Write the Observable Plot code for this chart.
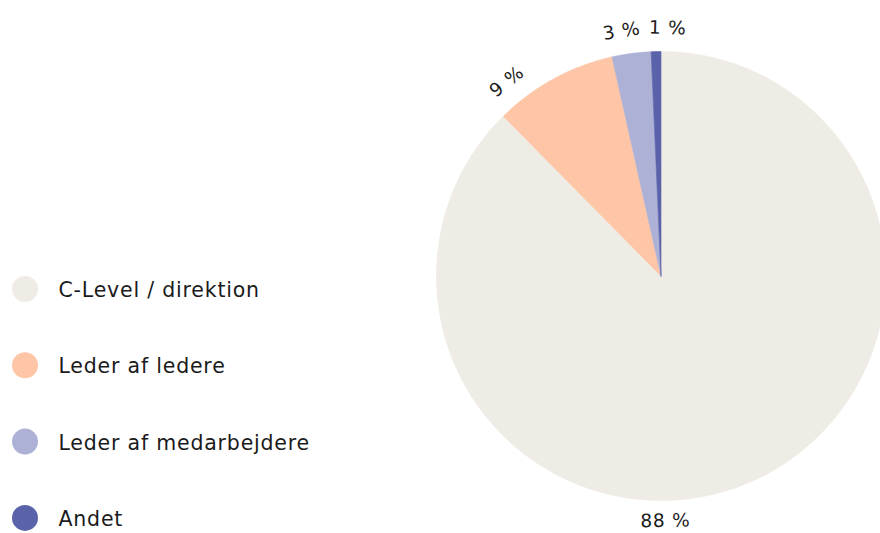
<!DOCTYPE html>
<html><head><meta charset="utf-8">
<script src="https://cdn.jsdelivr.net/npm/d3@7"></script>
<script src="https://cdn.jsdelivr.net/npm/@observablehq/plot@0.6"></script>
<style>html,body{margin:0;padding:0;background:#fff;overflow:hidden;}</style>
</head><body><div id="chart"></div>
<script>
// ---- data ----
const categories = ["C-Level / direktion", "Leder af ledere", "Leder af medarbejdere", "Andet"];
const shares = [87.6, 8.9, 2.8, 0.7];
const valueLabels = ["88 %", "9 %", "3 %", "1 %"];

// ---- style / layout ----
const palette = ["#efebe5", "#fec6a6", "#adb1d6", "#5a63aa"];
const W = 880, H = 533;
const cx = 660.5, cy = 275.5, R = 224.5;
const labelR = 248;
const labelNudgeDeg = [21.3, -9.8, -1.6, 2.8];
const legendX = 24.5, legendTextX = 58, legendY0 = 288.5, legendStep = 76.3;
const font = "'DejaVu Sans', sans-serif";
const ink = "#1b1b1b";

const total = d3.sum(shares);
let acc = 0;
const slices = categories.map((c, i) => {
  const a0 = acc / total * 360; acc += shares[i];
  const a1 = acc / total * 360;
  return {c, i, a0, a1, mid: (a0 + a1) / 2};
});
const polar = (deg, r) => {
  const t = deg * Math.PI / 180;
  return [cx + r * Math.sin(t), cy - r * Math.cos(t)];
};
const wedgePts = slices.flatMap(s => {
  const n = Math.max(2, Math.ceil((s.a1 - s.a0) / 0.5));
  const pts = [{c: s.c, x: cx, y: cy}];
  for (let k = 0; k <= n; k++) {
    const [x, y] = polar(s.a0 + (s.a1 - s.a0) * k / n, R);
    pts.push({c: s.c, x, y});
  }
  pts.push({c: s.c, x: cx, y: cy});
  return pts;
});
const labelAngle = s => s.mid + labelNudgeDeg[s.i];
const labelRadius = s => Math.abs(((labelAngle(s) % 360) + 360) % 360 - 180) < 90 ? labelR - 3 : labelR;
const norm = a => ((a + 180) % 360 + 360) % 360 - 180;
const rot = s => { const a = norm(labelAngle(s)); return Math.abs(a) <= 90 ? a : a - Math.sign(a) * 180; };

const chart = Plot.plot({
  width: W, height: H,
  margin: 0,
  x: {domain: [0, W], range: [0, W], axis: null},
  y: {domain: [0, H], range: [0, H], axis: null},
  color: {domain: categories, range: palette},
  style: {fontFamily: font, background: "#fff", letterSpacing: "0.8px"},
  marks: [
    Plot.line(wedgePts, {x: "x", y: "y", z: "c", fill: "c", stroke: "c", strokeWidth: 0.6, clip: true}),
    Plot.text(slices, {
      x: s => polar(labelAngle(s), labelRadius(s))[0],
      y: s => polar(labelAngle(s), labelRadius(s))[1],
      text: s => valueLabels[s.i],
      rotate: rot,
      fontSize: 18.5, fill: ink, textAnchor: "middle"
    }),
    Plot.dot(categories, {x: () => legendX, y: (d, i) => legendY0 + i * legendStep, r: 13, fill: d => d, stroke: null}),
    Plot.text(categories, {x: () => legendTextX, y: (d, i) => legendY0 + 1.5 + i * legendStep, text: d => d, textAnchor: "start", fontSize: 20.5, fill: ink})
  ]
});
document.getElementById("chart").append(chart);
</script>
</body></html>
